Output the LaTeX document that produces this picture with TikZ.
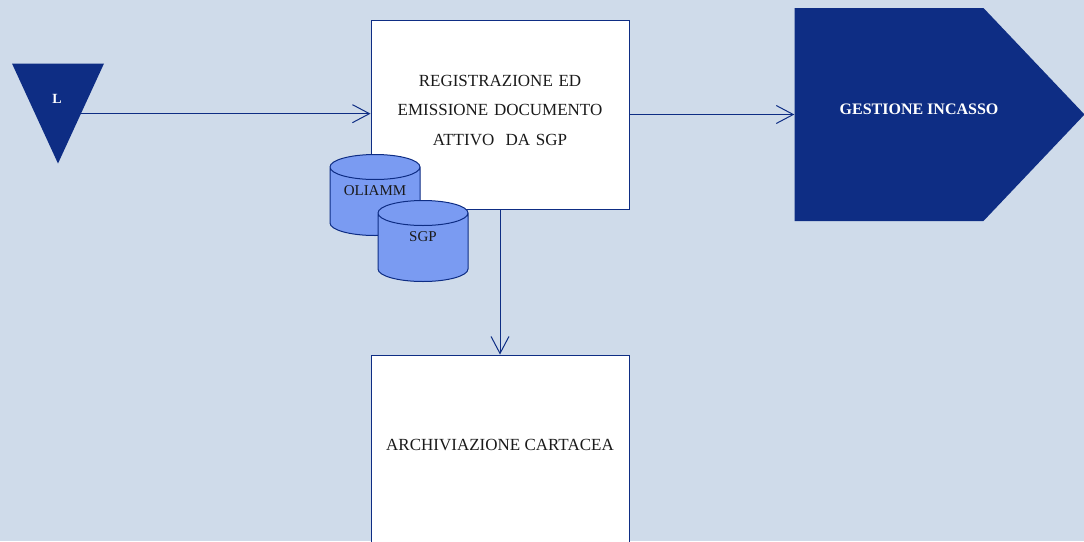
\documentclass[tikz,border=0pt]{standalone}
\usepackage{fontspec}
\setmainfont{Liberation Serif}
\usetikzlibrary{arrows.meta,shapes.geometric,shapes.symbols}
\definecolor{pagebg}{HTML}{CFDBEA}
\definecolor{navy}{HTML}{0E2D84}
\definecolor{dbblue}{HTML}{7A9BF2}
\definecolor{inktext}{HTML}{1A1A1A}
\newcommand{\dblabel}[1]{\makebox[35pt]{#1}}
\tikzset{
	every node/.style={font=\fontsize{17}{29.5}\selectfont,text=inktext},
	task/.style={
		draw=navy,
		fill=white,
		line width=1pt,
		align=center,
		minimum width=258pt,
		minimum height=189pt
	},
	db/.style={
		cylinder,
		shape border rotate=90,
		aspect=0.6,
		anchor=shape center,
		draw=navy,
		fill=dbblue,
		line width=1pt,
		text depth=26pt,
		font=\fontsize{15}{16}\selectfont,
		minimum width=90pt,
		minimum height=81pt
	},
	flow/.style={
		draw=navy,
		line width=1pt,
		-{Straight Barb[length=17pt,width=18pt]}
	}
}

\begin{document}
\begin{tikzpicture}[x=1pt,y=-1pt]
		\useasboundingbox (0,0) rectangle (1084,541);
		\clip (0,0) rectangle (1084,541);
		\fill[pagebg] (0,0) rectangle (1084,541);

		\node[task, text width=230pt, text depth=68pt] (reg) at (500,114.5) {REGISTRAZIONE ED\\EMISSIONE DOCUMENTO\\ATTIVO \ DA SGP};
		\node[task, text depth=9pt, below of=reg, node distance=335pt] (arch) {ARCHIVIAZIONE CARTACEA};
		\node[isosceles triangle, isosceles triangle apex angle=49.4, shape border rotate=-90,
			isosceles triangle stretches, fill=navy, inner sep=0pt, minimum width=92pt, minimum height=100pt,
			anchor=apex] (start) at (58,164) {};
		\node[signal, signal to=east, signal pointer angle=93, fill=navy, minimum width=290pt, minimum height=213pt,
			right of=reg, node distance=389pt] (incasso) {};
		\node[text=white, font=\fontsize{16}{20}\selectfont\bfseries] (incassotext) at (919,109) {GESTIONE INCASSO};
		\node[text=white, font=\fontsize{14}{16}\selectfont\bfseries] (starttext) at (57,99) {L};

		\draw[flow] (start.left side) -- (start.left side -| reg.west);
		\draw[flow] (reg) -- (incasso);
		\draw[flow] (reg) -- (arch);

		\node[db] (oliamm) at (375,195) {\dblabel{OLIAMM}};
		\node[db] (sgp) at (423,241) {\dblabel{SGP}};
	\end{tikzpicture}
\end{document}
